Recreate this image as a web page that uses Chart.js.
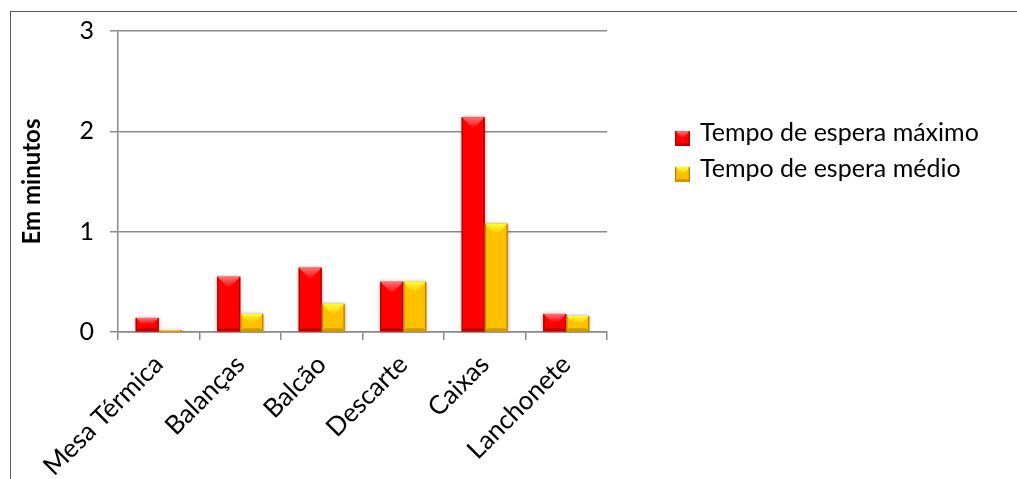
<!DOCTYPE html>
<html>
<head>
<meta charset="utf-8">
<script src="https://cdn.jsdelivr.net/npm/chart.js@4.4.1/dist/chart.umd.min.js"></script>
<style>
  html, body { margin: 0; padding: 0; background: #fff; overflow: hidden; }
  #wrap { position: relative; width: 1017px; height: 479px; }
  #frame { position: absolute; left: 10px; top: 11px; width: 2000px; height: 2000px;
           border-left: 1.5px solid #5a5a5a; border-top: 1.5px solid #5a5a5a; }
  canvas { position: absolute; left: 0; top: 0; }
</style>
</head>
<body>
<div id="wrap">
  <div id="frame"></div>
  <canvas id="c" width="1017" height="479"></canvas>
</div>
<script>
// Waiting times per service point (minutes)
const categories = ['Mesa Térmica', 'Balanças', 'Balcão', 'Descarte', 'Caixas', 'Lanchonete'];
const seriesNames = ['Tempo de espera máximo', 'Tempo de espera médio'];
const maxWait = [0.14, 0.55, 0.64, 0.50, 2.14, 0.18];
const avgWait = [0.02, 0.18, 0.28, 0.50, 1.08, 0.16];
const yTicks = [0, 1, 2, 3];

const FONT = 'Lato, "Open Sans", sans-serif';
const GRID = '#8a8a8a';

// Shading used for the bevelled look: front, top face, side edge, bottom face
const palettes = [
  { front: '#ff0000', top: '#ff7070', edge: '#9a0000', bottom: '#c00000' },
  { front: '#ffc000', top: '#ffff30', edge: '#9a7000', bottom: '#cf9a00' }
];

function bevelBox(ctx, left, top, right, bottom, pal) {
  const w = right - left, h = bottom - top;
  if (h <= 0 || w <= 0) return;
  const d = Math.min(w / 2, h / 2);
  const b = Math.min(h / 4, 3);
  ctx.save();
  // front
  ctx.fillStyle = pal.front;
  ctx.fillRect(left, top, w, h);
  // top face: wedge pointing down to the centre
  ctx.beginPath();
  ctx.moveTo(left, top);
  ctx.lineTo(right, top);
  ctx.lineTo(right - d, top + d);
  ctx.lineTo(left + d, top + d);
  ctx.closePath();
  const g = ctx.createLinearGradient(0, top, 0, top + d);
  g.addColorStop(0, pal.top);
  g.addColorStop(1, pal.front);
  ctx.fillStyle = g;
  ctx.fill();
  // bottom face
  ctx.beginPath();
  ctx.moveTo(left, bottom);
  ctx.lineTo(right, bottom);
  ctx.lineTo(right - b, bottom - b);
  ctx.lineTo(left + b, bottom - b);
  ctx.closePath();
  ctx.fillStyle = pal.bottom;
  ctx.fill();
  // thin darker side edges
  ctx.globalAlpha = 0.75;
  ctx.fillStyle = pal.edge;
  ctx.fillRect(left, top, 1.3, h);
  ctx.fillRect(right - 1.3, top, 1.3, h);
  ctx.restore();
}

const bevelPlugin = {
  id: 'bevel',
  beforeDatasetsDraw(chart) {
    const ctx = chart.ctx;
    chart.data.datasets.forEach((ds, i) => {
      const meta = chart.getDatasetMeta(i);
      meta.data.forEach(el => {
        const p = el.getProps(['x', 'y', 'base', 'width'], true);
        const left = p.x - p.width / 2, right = p.x + p.width / 2;
        const top = Math.min(p.y, p.base), bottom = Math.max(p.y, p.base);
        ctx.save();
        ctx.shadowColor = 'rgba(0,0,0,0.35)';
        ctx.shadowBlur = 4;
        ctx.fillStyle = palettes[i].front;
        ctx.fillRect(left, top, right - left, bottom - top);
        ctx.restore();
      });
    });
  },
  afterDatasetsDraw(chart) {
    const ctx = chart.ctx;
    chart.data.datasets.forEach((ds, i) => {
      const meta = chart.getDatasetMeta(i);
      meta.data.forEach(el => {
        const p = el.getProps(['x', 'y', 'base', 'width'], true);
        bevelBox(ctx, p.x - p.width / 2, Math.min(p.y, p.base),
                 p.x + p.width / 2, Math.max(p.y, p.base), palettes[i]);
      });
    });
  }
};

// Legend on the right with bevelled swatches
const legendPlugin = {
  id: 'sideLegend',
  afterDraw(chart) {
    const ctx = chart.ctx;
    const x0 = 675, rows = [131, 167], size = 15;
    ctx.save();
    chart.data.datasets.forEach((ds, i) => {
      const y = rows[i];
      bevelBox(ctx, x0, y, x0 + size, y + size, palettes[i]);
      ctx.fillStyle = '#000';
      ctx.font = '25px ' + FONT;
      ctx.textAlign = 'left';
      ctx.textBaseline = 'alphabetic';
      ctx.fillText(ds.label, x0 + 25, y + 10);
    });
    ctx.restore();
  }
};

new Chart(document.getElementById('c'), {
  type: 'bar',
  data: {
    labels: categories,
    datasets: [
      { label: seriesNames[0], data: maxWait, backgroundColor: 'rgba(0,0,0,0)', borderWidth: 0 },
      { label: seriesNames[1], data: avgWait, backgroundColor: 'rgba(0,0,0,0)', borderWidth: 0 }
    ]
  },
  options: {
    responsive: false,
    animation: false,
    devicePixelRatio: 1,
    layout: { padding: { left: 10, top: 27, right: 410, bottom: 0 } },
    datasets: { bar: { categoryPercentage: 0.565, barPercentage: 1 } },
    plugins: { legend: { display: false }, tooltip: { enabled: false } },
    scales: {
      x: {
        grid: { display: true, drawOnChartArea: false, drawTicks: true, tickLength: 8,
                color: GRID, lineWidth: 1.5, offset: true },
        border: { display: true, color: GRID, width: 1.5 },
        ticks: { color: '#000', font: { family: FONT, size: 26 }, minRotation: 45,
                 maxRotation: 45, padding: 9, autoSkip: false },
        afterFit(scale) { scale.height = 147; }
      },
      y: {
        min: 0, max: 3,
        afterBuildTicks(scale) { scale.ticks = yTicks.map(v => ({ value: v })); },
        grid: { color: GRID, lineWidth: 1.5, tickLength: 8 },
        border: { display: true, color: GRID, width: 1.5 },
        ticks: { color: '#000', font: { family: FONT, size: 25 }, padding: 16 },
        title: { display: true, text: 'Em minutos', color: '#000',
                 font: { family: FONT, size: 24, weight: 'bold' }, padding: { top: 8, bottom: 0 } },
        afterFit(scale) { scale.width = 108; }
      }
    }
  },
  plugins: [bevelPlugin, legendPlugin]
});
</script>
</body>
</html>
